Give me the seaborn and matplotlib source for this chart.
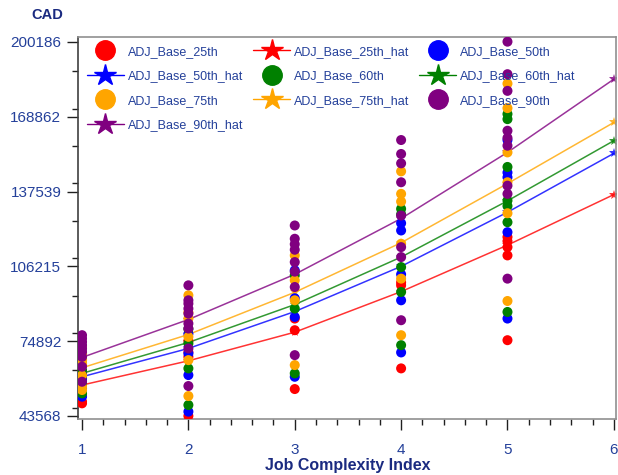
import numpy as np
import pandas as pd
import matplotlib
matplotlib.use("Agg")
import matplotlib.pyplot as plt
from matplotlib.lines import Line2D
from matplotlib.ticker import MultipleLocator
import seaborn as sns

# series names / colours
series = ["ADJ_Base_25th", "ADJ_Base_50th", "ADJ_Base_60th", "ADJ_Base_75th", "ADJ_Base_90th"]
colors = ["#FF0000", "#0000FF", "#008000", "#FFA500", "#800080"]

# observed points, per complexity index 1..5
p25 = {1: [62000, 59300, 56500, 52500, 49560, 48860],
       2: [75000, 70300, 68350, 43570],
       3: [84360, 79480, 54840],
       4: [99500, 98270, 63490],
       5: [118500, 116770, 114270, 110800, 75300]}
p50 = {1: [68500, 65000, 61390, 59000, 55000, 51640],
       2: [78000, 69740, 60690, 45380],
       3: [104540, 92850, 85030, 59980],
       4: [124290, 121240, 102880, 92000, 70170],
       5: [159110, 145500, 143520, 120520, 84360]}
p60 = {1: [70000, 67000, 62780, 60500, 57000, 53035],
       2: [80000, 73920, 63480, 48160],
       3: [102450, 88540, 61400],
       4: [130300, 128000, 105900, 95480, 73220],
       5: [170000, 167860, 147840, 133770, 131500, 124700, 87120]}
p75 = {1: [72500, 69500, 66950, 65560, 60500, 55820, 54430],
       2: [94100, 87000, 84360, 76700, 66950, 51920],
       3: [110800, 100360, 92000, 64870],
       4: [146000, 136570, 133350, 115670, 101070, 77390],
       5: [182750, 172470, 153930, 141430, 128460, 91710]}
p90 = {1: [77400, 76000, 74600, 73200, 71800, 70400, 68300, 64200, 57900],
       2: [98270, 92000, 90620, 88530, 86450, 82270, 80180, 71830, 56100],
       3: [123330, 117770, 115500, 113180, 108000, 104000, 97560, 69040],
       4: [159110, 153270, 149350, 141430, 127500, 114270, 110100, 83660],
       5: [200300, 186680, 179700, 163000, 160000, 156740, 140000, 136570, 101070]}

# fitted (_hat) curves
hat_x = [1, 2, 3, 4, 5, 6]
hat25 = [56510, 66660, 78650, 95640, 115100, 136270]
hat50 = [59980, 71840, 87290, 106210, 128880, 153520]
hat60 = [61400, 74350, 90210, 110100, 133640, 158830]
hat75 = [63740, 77680, 95350, 116100, 140870, 166470]
hat90 = [68080, 83950, 102870, 126250, 153930, 184590]

y_ticks = [43568, 74892, 106215, 137539, 168862, 200186]
x_ticks = [1, 2, 3, 4, 5, 6]

rows = []
for name, pts in zip(series, [p25, p50, p60, p75, p90]):
    for x, vals in pts.items():
        for v in vals:
            rows.append({"serie": name, "x": x, "y": v})
pts_df = pd.DataFrame(rows)

rows = []
for name, vals in zip(series, [hat25, hat50, hat60, hat75, hat90]):
    for x, v in zip(hat_x, vals):
        rows.append({"serie": name + "_hat", "x": x, "y": v})
hat_df = pd.DataFrame(rows)

sns.set_theme(style="white")
plt.rcParams["font.family"] = ["Liberation Sans", "DejaVu Sans"]

fig = plt.figure(figsize=(6.18, 4.75), dpi=100)
ax = fig.add_axes([0.1262, 0.1179, 0.8705, 0.8042])

pal_hat = dict(zip([s + "_hat" for s in series], colors))
sns.lineplot(data=hat_df, x="x", y="y", hue="serie", palette=pal_hat, ax=ax,
             linewidth=1.1, alpha=0.8, legend=False, zorder=1,
             marker="*", markersize=7, markeredgewidth=0)

pal = dict(zip(series, colors))
sns.scatterplot(data=pts_df, x="x", y="y", hue="serie", palette=pal, ax=ax,
                s=52, edgecolor="none", legend=False, zorder=3)

ax.set_xlim(0.962, 6.02)
ax.set_ylim(42300, 202250)
ax.set_xticks(x_ticks)
ax.set_xticklabels([str(t) for t in x_ticks])
ax.xaxis.set_minor_locator(MultipleLocator(0.2))
ax.set_yticks(np.linspace(y_ticks[0], y_ticks[-1], 6))
ax.set_yticklabels([str(t) for t in y_ticks])
ax.yaxis.set_minor_locator(MultipleLocator((y_ticks[-1] - y_ticks[0]) / 10))

tick_col = "#24409A"
ax.tick_params(axis="both", which="major", direction="out", length=8, width=1,
               color="#202020", labelsize=11, labelcolor=tick_col)
ax.tick_params(axis="both", which="minor", direction="out", length=4, width=1,
               color="#202020")
ax.tick_params(axis="y", which="both", left=True, pad=4)
ax.tick_params(axis="x", which="both", bottom=True, pad=9)

for side in ["top", "right", "bottom"]:
    ax.spines[side].set_color("#909090")
    ax.spines[side].set_linewidth(1.2)
ax.spines["left"].set_color("#404040")
ax.spines["left"].set_linewidth(1.2)

ax.set_xlabel("")
ax.set_ylabel("")
fig.text(0.077, 0.968, "CAD", color="#1A2A80", fontsize=10.5, fontweight="bold",
         ha="center", va="center")
fig.text(0.563, 0.021, "Job Complexity Index", color="#1A2A80", fontsize=11.5,
         fontweight="bold", ha="center", va="center")

# legend, ordered so it reads row by row like the original
def dot(c, lab):
    return Line2D([], [], color=c, marker="o", linestyle="none", markersize=14, label=lab)

def star(c, lab):
    return Line2D([], [], color=c, marker="*", linewidth=1, markersize=16, label=lab)

handles = [dot(colors[0], "ADJ_Base_25th"), star(colors[1], "ADJ_Base_50th_hat"),
           dot(colors[3], "ADJ_Base_75th"), star(colors[4], "ADJ_Base_90th_hat"),
           star(colors[0], "ADJ_Base_25th_hat"), dot(colors[2], "ADJ_Base_60th"),
           star(colors[3], "ADJ_Base_75th_hat"),
           dot(colors[1], "ADJ_Base_50th"), star(colors[2], "ADJ_Base_60th_hat"),
           dot(colors[4], "ADJ_Base_90th")]
leg = ax.legend(handles=handles, ncol=3, loc="upper left", bbox_to_anchor=(0.0, 1.0),
                frameon=False, fontsize=9, handlelength=3.0, handletextpad=0.3,
                columnspacing=0.75, labelspacing=1.0, borderpad=0.5, borderaxespad=0.2)
for t in leg.get_texts():
    t.set_color(tick_col)

fig.savefig("out.png", dpi=100)
